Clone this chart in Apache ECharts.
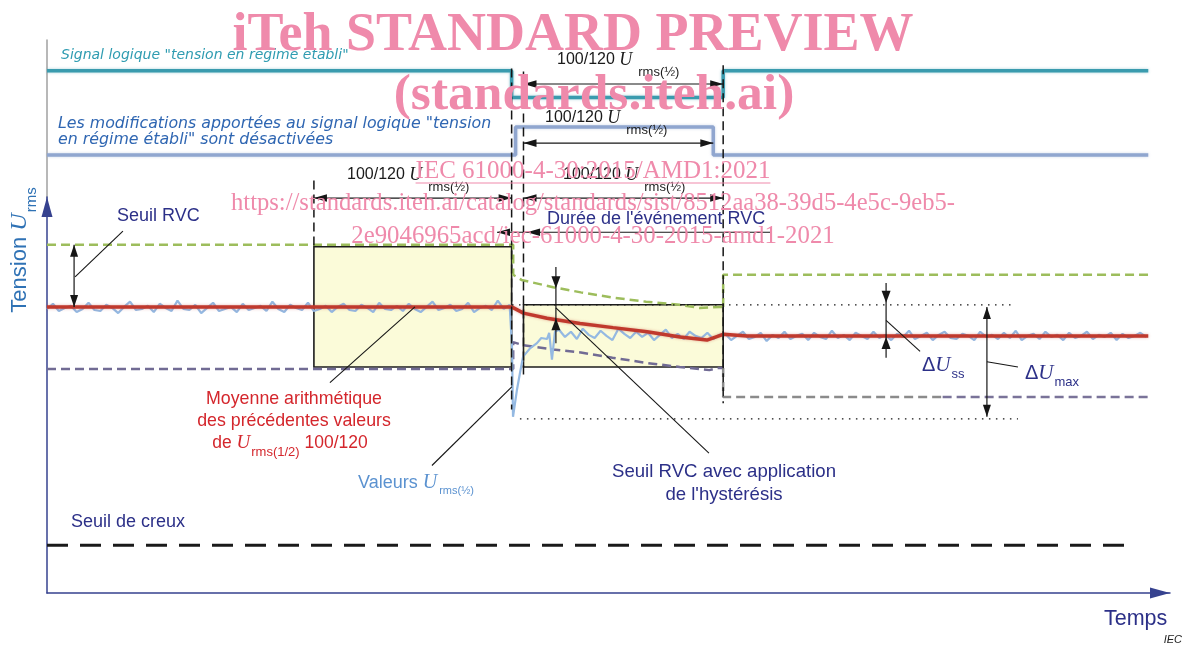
<!DOCTYPE html>
<html>
<head>
<meta charset="utf-8">
<script src="https://cdn.jsdelivr.net/npm/echarts@6/dist/echarts.min.js"></script>
<style>html,body{margin:0;padding:0;background:#fff;}#chart{width:1184px;height:646px;}</style>
</head>
<body>
<div id="chart"></div>
<script>
// ---------- axes: time in half-cycles (t = 0 at the start of the RVC event), voltage in V ----------
const timeMin = -235, timeMax = 333;
const voltMin = 202.4, voltMax = 240.6;
const logicMin = -1.5, logicMax = 4.1;

// ---------- logic signals ----------
const steadyT = [-235, 0, 0, 107, 107, 322];
const steadyL = [3, 3, 2.05, 2.05, 3, 3];
const disabledT = [-235, 2, 2, 102, 102, 322];
const disabledL = [0, 0, 1, 1, 0, 0];

// ---------- RVC thresholds ----------
const upperT = [-235, 0.8, 0.8, 5, 21, 35, 51, 68, 85, 95, 105, 107];
const upperV = [236, 236, 233.1, 232.6, 231.9, 231.4, 230.9, 230.5, 230.2, 229.9, 230.0, 230.0];
const upperAfterT = [107, 107, 322];
const upperAfterV = [230.0, 233.1, 233.1];
const lowerT = [-235, 0.8, 0.8, 6, 21, 35, 51, 68, 85, 100, 104, 107];
const lowerV = [224.0, 224.0, 226.6, 226.3, 225.9, 225.6, 225.1, 224.6, 224.2, 223.9, 224.1, 224.1];
const lowerAfterT = [107, 107, 218];
const lowerAfterV = [224.1, 221.3, 221.3];
const lowerTailT = [218, 322];
const lowerTailV = [221.3, 221.3];

// ---------- arithmetic mean of the previous 100/120 Urms(1/2) ----------
const meanT = [-235, 0, 6, 17.9, 34.6, 51.3, 68.5, 85.2, 98.8, 107, 119, 322];
const meanV = [230, 230, 229.4, 228.9, 228.4, 228.0, 227.6, 227.1, 226.8, 227.35, 227.2, 227.2];

// ---------- Urms(1/2) values ----------
const rmsPreStart = -235, rmsStep = 3;
const rmsPre = [
  229.8, 230.3, 229.6, 229.9, 230.1, 229.5, 229.8, 230.4, 229.7, 229.6,
  230.2, 229.9, 229.4, 230.0, 230.5, 229.7, 229.8, 230.1, 229.5, 230.3,
  229.9, 229.6, 230.6, 229.8, 229.7, 230.2, 229.4, 229.9, 230.4, 229.6,
  229.8, 230.0, 229.5, 230.3, 229.7, 229.9, 230.1, 229.6, 230.5, 229.8,
  229.5, 230.2, 229.9, 229.7, 230.4, 229.6, 229.8, 230.1, 229.5, 230.0,
  230.3, 229.7, 229.6, 230.2, 229.9, 229.5, 230.4, 229.8, 229.7, 230.1,
  229.6, 230.3, 229.8, 229.5, 230.0, 230.5, 229.7, 229.9, 230.2, 229.6,
  229.8, 230.4, 229.5, 229.9, 230.1, 229.7, 230.6, 229.8, 230.2
];
const rmsDipT = [0.2, 0.7, 2.7, 4.2, 5.8, 9.3, 12.8, 15, 17.9, 19, 20.4, 21.9];
const rmsDipV = [226.1, 219.4, 222.0, 223.6, 225.2, 226.0, 226.5, 227.0, 226.9, 227.5, 224.9, 227.6];
const rmsDuringStart = 24;
const rmsDuring = [
  227.8, 227.1, 227.6, 226.9, 227.9, 227.3, 227.0, 227.7, 227.2, 226.8,
  227.9, 227.4, 227.0, 227.6, 227.1, 227.5, 226.8, 227.3, 227.8, 227.0,
  227.4, 226.9, 227.6, 227.2, 227.0, 227.5, 226.9, 227.3
];
const rmsAfterStart = 108;
const rmsAfter = [
  227.4, 226.8, 227.2, 227.6, 226.9, 227.1, 227.5, 226.7, 227.3, 227.0,
  227.6, 226.9, 227.2, 227.4, 226.8, 227.5, 227.1, 226.9, 227.7, 227.0,
  227.3, 226.8, 227.5, 227.2, 226.9, 227.6, 227.0, 227.3, 226.8, 227.4,
  227.1, 227.7, 226.9, 227.2, 227.5, 226.8, 227.3, 227.6, 227.0, 226.9,
  227.4, 227.2, 226.8, 227.6, 227.1, 227.3, 226.9, 227.5, 227.0, 227.7,
  226.8, 227.2, 227.4, 226.9, 227.6, 227.1, 227.3, 226.8, 227.5, 227.0,
  227.2, 227.6, 226.9, 227.3, 227.1, 227.5, 226.8, 227.4, 227.0, 227.2,
  227.5, 227.1
];

// ---------- dip threshold ----------
const dipT = [-235, 312.8];
const dipV = [207, 207];

// ---------- 100/120 windows (t1, t2, vTop, vBottom) ----------
const windowT1 = [-100, 6];
const windowT2 = [0, 107];
const windowTop = [235.8, 230.2];
const windowBottom = [224.2, 224.2];

// ---------- annotation anchors (data units) ----------
const markerLines = [[-100, 242.2, 235.8], [0, 253.0, 220.1], [6, 252.7, 223.4], [107, 253.3, 220.7]];
const spanArrows = [[6, 107, 251.5], [6, 102, 245.8], [-100, 0, 240.5], [6, 107, 240.5]];
const eventArrow = [-7.4, 130.7, 237.2, 7.8];
const outerArrows = [[-221.3, 236, 230], [240.4, 230.0, 219.4]];
const innerArrows = [[22.4, 233.85, 231.8, 228.9, 226.5], [189.4, 232.3, 230.4, 227.1, 225.1]];
const dottedRefs = [[0.2, 253.6, 230.2], [4.2, 256.1, 219.2]];
const leaders = [
  [-196.6, 237.3, -220.8, 232.9],
  [-48.9, 230.0, -91.9, 222.7],
  [0.2, 222.3, -40.3, 214.7],
  [22.4, 229.9, 99.8, 215.9],
  [189.4, 228.7, 206.6, 225.7],
  [240.4, 224.7, 256.1, 224.2]
];

// ---------- build ----------
function pairs(ts, vs) { return ts.map((t, i) => [t, vs[i]]); }
function stepSeries(start, step, vals) { return vals.map((v, i) => [start + i * step, v]); }
const rmsData = [].concat(
  stepSeries(rmsPreStart, rmsStep, rmsPre),
  pairs(rmsDipT, rmsDipV),
  stepSeries(rmsDuringStart, rmsStep, rmsDuring),
  stepSeries(rmsAfterStart, rmsStep, rmsAfter)
);

function lineS(data, grid, style, z) {
  return { type: 'line', xAxisIndex: grid, yAxisIndex: grid, data: data, symbol: 'none', showSymbol: false,
    lineStyle: style, z: z, silent: true, animation: false, clip: false };
}

const navy = '#2c3088';
const option = {
  animation: false,
  backgroundColor: '#ffffff',
  grid: [
    { left: 47, top: 40, width: 1123, height: 157 },
    { left: 47, top: 197, width: 1123, height: 396 }
  ],
  xAxis: [
    { gridIndex: 0, type: 'value', min: timeMin, max: timeMax, show: false },
    { gridIndex: 1, type: 'value', min: timeMin, max: timeMax,
      axisLine: { show: true, onZero: false, lineStyle: { color: '#36428f', width: 1.5 },
        symbol: ['none', 'triangle'], symbolSize: [11, 20], symbolOffset: [0, -10] },
      axisTick: { show: false }, axisLabel: { show: false }, splitLine: { show: false } }
  ],
  yAxis: [
    { gridIndex: 0, type: 'value', min: logicMin, max: logicMax,
      axisLine: { show: true, onZero: false, lineStyle: { color: '#a0a0a0', width: 1.5 } },
      axisTick: { show: false }, axisLabel: { show: false }, splitLine: { show: false } },
    { gridIndex: 1, type: 'value', min: voltMin, max: voltMax,
      axisLine: { show: true, onZero: false, lineStyle: { color: '#36428f', width: 1.5 },
        symbol: ['none', 'triangle'], symbolSize: [11, 20], symbolOffset: [0, -10] },
      axisTick: { show: false }, axisLabel: { show: false }, splitLine: { show: false } }
  ],
  series: [
    { type: 'custom', xAxisIndex: 1, yAxisIndex: 1, z: 1, silent: true, clip: false,
      encode: { x: [0, 1], y: [2, 3] },
      data: windowT1.map((t, i) => [t, windowT2[i], windowTop[i], windowBottom[i]]),
      renderItem: function (params, api) {
        const p1 = api.coord([api.value(0), api.value(2)]);
        const p2 = api.coord([api.value(1), api.value(3)]);
        return { type: 'rect', shape: { x: p1[0], y: p1[1], width: p2[0] - p1[0], height: p2[1] - p1[1] },
          style: { fill: '#fbfbd9', stroke: '#1c1c1c', lineWidth: 1.6 } };
      } },
    lineS(pairs(steadyT, steadyL), 0, { color: '#3a9bae', width: 3.5, shadowBlur: 3, shadowColor: 'rgba(58,155,174,0.45)' }, 3),
    lineS(pairs(disabledT, disabledL), 0, { color: '#90a6cf', width: 3.5, shadowBlur: 3, shadowColor: 'rgba(144,166,207,0.45)' }, 3),
    lineS(pairs(upperT, upperV), 1, { color: '#9dbd5c', width: 2.5, type: [9, 5] }, 2),
    lineS(pairs(upperAfterT, upperAfterV), 1, { color: '#9dbd5c', width: 2.5, type: [9, 5] }, 2),
    lineS(pairs(lowerT, lowerV), 1, { color: '#716b94', width: 2.5, type: [9, 5] }, 2),
    lineS(pairs(lowerAfterT, lowerAfterV), 1, { color: '#8b8b8b', width: 2.5, type: [9, 5] }, 2),
    lineS(pairs(lowerTailT, lowerTailV), 1, { color: '#7a7399', width: 2.5, type: [9, 5] }, 2),
    lineS(pairs(dipT, dipV), 1, { color: '#1a1a1a', width: 3, type: [21, 12] }, 2),
    lineS(rmsData, 1, { color: '#94b9e2', width: 2.2 }, 3),
    lineS(pairs(meanT, meanV), 1, { color: '#c0392d', width: 3.5, shadowBlur: 3, shadowColor: 'rgba(192,57,45,0.4)' }, 4)
  ]
};

const chart = echarts.init(document.getElementById('chart'), null, { renderer: 'canvas' });
chart.setOption(option);

// ---------- annotations ----------
const P = (t, v) => chart.convertToPixel({ gridIndex: 1 }, [t, v]);
const mctx = document.createElement('canvas').getContext('2d');
function tw(text, font) { mctx.font = font; return mctx.measureText(text).width; }
const els = [];
function seg(a, b, style) {
  els.push({ type: 'line', silent: true, z: 50, shape: { x1: a[0], y1: a[1], x2: b[0], y2: b[1] },
    style: Object.assign({ stroke: '#161616', lineWidth: 1.2 }, style || {}) });
}
function head(tip, from, len, half) {
  len = len || 13; half = half || 3.8;
  const dx = tip[0] - from[0], dy = tip[1] - from[1];
  const L = Math.hypot(dx, dy), ux = dx / L, uy = dy / L;
  const bx = tip[0] - ux * len, by = tip[1] - uy * len;
  els.push({ type: 'polygon', silent: true, z: 51,
    shape: { points: [tip, [bx - uy * half, by + ux * half], [bx + uy * half, by - ux * half]] },
    style: { fill: '#161616' } });
}
function txt(x, y, parts, align, group) {
  let total = 0;
  parts.forEach(p => { total += (p.gap || 0) + tw(p.t, p.f); });
  let cx = align === 'center' ? x - total / 2 : (align === 'right' ? x - total : x);
  const target = group || els;
  parts.forEach(p => {
    cx += (p.gap || 0);
    target.push({ type: 'text', silent: true, z: 60, x: cx, y: y + (p.dy || 0),
      style: { text: p.t, font: p.f, fill: p.c, align: 'left', textAlign: 'left', verticalAlign: 'middle', textVerticalAlign: 'middle' } });
    cx += tw(p.t, p.f);
  });
}

markerLines.forEach(m => seg(P(m[0], m[1]), P(m[0], m[2]), { lineDash: [9, 5], lineWidth: 1.5 }));
dottedRefs.forEach(d => seg(P(d[0], d[2]), P(d[1], d[2]), { lineDash: [1.5, 5.5], lineWidth: 1.3 }));
spanArrows.forEach(s => {
  const a = P(s[0], s[2]), b = P(s[1], s[2]);
  seg(a, b); head(a, b); head(b, a);
});
(function () {
  const a = P(eventArrow[0], eventArrow[2]), b = P(eventArrow[1], eventArrow[2]), c = P(eventArrow[3], eventArrow[2]);
  seg(a, b); head(a, b); head(c, b);
})();
outerArrows.forEach(o => {
  const a = P(o[0], o[1]), b = P(o[0], o[2]);
  seg(a, b); head(a, b, 12, 4); head(b, a, 12, 4);
});
innerArrows.forEach(o => {
  const a = P(o[0], o[1]), t1 = P(o[0], o[2]), t2 = P(o[0], o[3]), b = P(o[0], o[4]);
  seg(a, b); head(t1, a, 12, 4.5); head(t2, b, 12, 4.5);
});
leaders.forEach(l => seg(P(l[0], l[1]), P(l[2], l[3]), { lineWidth: 1.1 }));

// ---------- texts ----------
const sans = '"Liberation Sans", Arial, sans-serif';
const dejavu = '"DejaVu Sans", sans-serif';
const serif = '"Liberation Serif", "Times New Roman", serif';
const teal = '#2f9cb1', blueTxt = '#2f66b2', red = '#d4262c', light = '#5b92d0', black = '#1a1a1a';

txt(61, 55, [{ t: 'Signal logique "tension en régime établi"', f: 'italic 14px ' + dejavu, c: teal }]);
txt(58, 124, [{ t: 'Les modifications apportées au signal logique "tension', f: 'italic 15.8px ' + dejavu, c: blueTxt }]);
txt(58, 140, [{ t: 'en régime établi" sont désactivées', f: 'italic 15.8px ' + dejavu, c: blueTxt }]);

function dimLabel(x, y) {
  txt(x, y, [
    { t: '100/120 ', f: '16px ' + sans, c: black },
    { t: 'U', f: 'italic 18px ' + serif, c: black },
    { t: 'rms(½)', f: '13px ' + sans, c: black, dy: 12, gap: 6 }
  ]);
}
dimLabel(557, 60);
dimLabel(545, 118);
dimLabel(347, 175);
dimLabel(563, 175);

txt(547, 219, [{ t: "Durée de l'événement RVC", f: '18px ' + sans, c: navy }]);
txt(117, 216, [{ t: 'Seuil RVC', f: '18px ' + sans, c: navy }]);
txt(294, 399, [{ t: 'Moyenne arithmétique', f: '17.8px ' + sans, c: red }], 'center');
txt(294, 421, [{ t: 'des précédentes valeurs', f: '17.8px ' + sans, c: red }], 'center');
txt(290, 443, [
  { t: 'de ', f: '17.5px ' + sans, c: red },
  { t: 'U', f: 'italic 19px ' + serif, c: red },
  { t: 'rms(1/2)', f: '13px ' + sans, c: red, dy: 9, gap: 1 },
  { t: ' 100/120', f: '17.5px ' + sans, c: red }
], 'center');
txt(358, 483, [
  { t: 'Valeurs ', f: '18px ' + sans, c: light },
  { t: 'U', f: 'italic 20px ' + serif, c: light },
  { t: 'rms(½)', f: '11px ' + sans, c: light, dy: 8, gap: 2 }
]);
txt(71, 522, [{ t: 'Seuil de creux', f: '18px ' + sans, c: navy }]);
txt(724, 472, [{ t: 'Seuil RVC avec application', f: '18.6px ' + sans, c: navy }], 'center');
txt(724, 495, [{ t: "de l'hystérésis", f: '18.6px ' + sans, c: navy }], 'center');
txt(922, 365, [
  { t: 'Δ', f: '20px ' + sans, c: navy },
  { t: 'U', f: 'italic 21px ' + serif, c: navy },
  { t: 'ss', f: '13px ' + sans, c: navy, dy: 9, gap: 1 }
]);
txt(1025, 373, [
  { t: 'Δ', f: '20px ' + sans, c: navy },
  { t: 'U', f: 'italic 21px ' + serif, c: navy },
  { t: 'max', f: '13px ' + sans, c: navy, dy: 9, gap: 1 }
]);
txt(1104, 619, [{ t: 'Temps', f: '21.5px ' + sans, c: navy }]);
txt(1182, 640, [{ t: 'IEC', f: 'italic 11px ' + sans, c: '#222' }], 'right');

// y-axis title (rotated)
const yTitle = [];
txt(0, 0, [
  { t: 'Tension ', f: '22px ' + sans, c: '#2f72b5' },
  { t: 'U', f: 'italic 24px ' + serif, c: '#2f72b5' },
  { t: 'rms', f: '15px ' + sans, c: '#2f72b5', dy: 12, gap: 1 }
], 'center', yTitle);
els.push({ type: 'group', x: 20, y: 250, rotation: Math.PI / 2, silent: true, children: yTitle });

// preview watermark
const wm = '#ef8aab';
const wmEls = [
  ['iTeh STANDARD PREVIEW', 'bold 54px ' + serif, 573, 36],
  ['(standards.iteh.ai)', 'bold 51.5px ' + serif, 594, 96],
  ['IEC 61000-4-30:2015/AMD1:2021', '25px ' + serif, 593, 171],
  ['https://standards.iteh.ai/catalog/standards/sist/8512aa38-39d5-4e5c-9eb5-', '24.6px ' + serif, 593, 204],
  ['2e9046965acd/iec-61000-4-30-2015-amd1-2021', '24.8px ' + serif, 593, 236]
];
wmEls.forEach(w => {
  els.push({ type: 'text', silent: true, z: 90, x: w[2], y: w[3],
    style: { text: w[0], font: w[1], fill: wm, align: 'center', textAlign: 'center', verticalAlign: 'middle', textVerticalAlign: 'middle' } });
});
(function () {
  const w = tw(wmEls[2][0], wmEls[2][1]);
  els.push({ type: 'line', silent: true, z: 90, shape: { x1: 593 - w / 2, y1: 183, x2: 593 + w / 2, y2: 183 }, style: { stroke: wm, lineWidth: 1.2 } });
})();

chart.setOption({ graphic: { elements: els } });
</script>
</body>
</html>
